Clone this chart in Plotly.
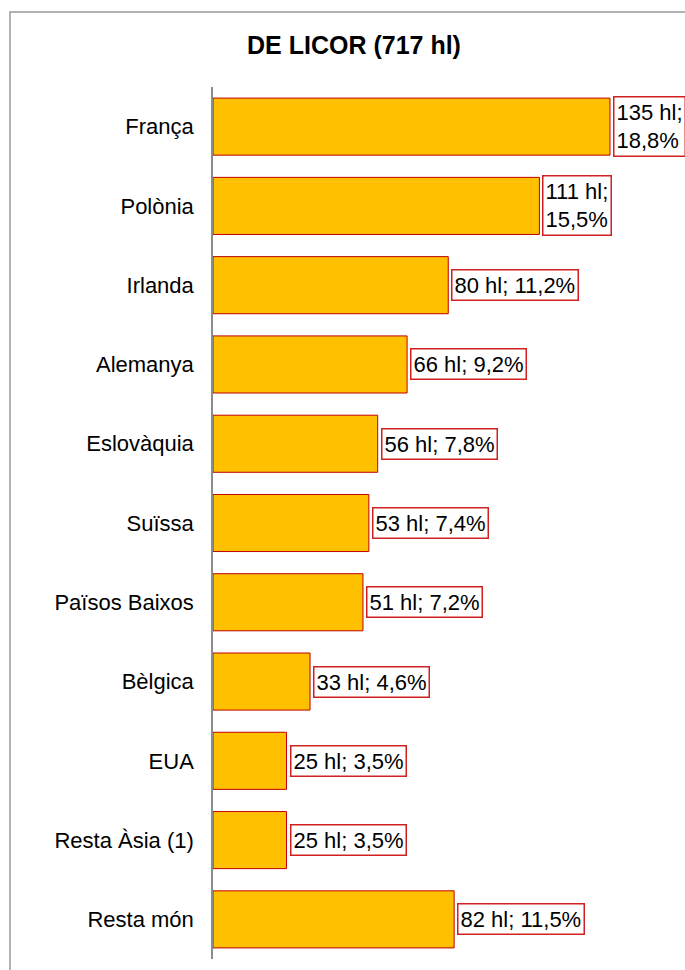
import plotly.graph_objects as go

categories = ["França", "Polònia", "Irlanda", "Alemanya", "Eslovàquia", "Suïssa",
              "Països Baixos", "Bèlgica", "EUA", "Resta Àsia (1)", "Resta món"]
values = [135, 111, 80, 66, 56, 53, 51, 33, 25, 25, 82]
labels = ["135 hl;<br>18,8%", "111 hl;<br>15,5%", "80 hl; 11,2%", "66 hl; 9,2%",
          "56 hl; 7,8%", "53 hl; 7,4%", "51 hl; 7,2%", "33 hl; 4,6%",
          "25 hl; 3,5%", "25 hl; 3,5%", "82 hl; 11,5%"]
title = "DE LICOR (717 hl)"

W, H = 685, 970
L, R_ = 213, 2
T, B = 87, H - 959
plot_w = W - L - R_
plot_h = H - T - B
FONT = "Liberation Sans, Arial"

fig = go.Figure(go.Bar(
    x=values, y=categories, orientation="h",
    marker=dict(color="#FFC000", line=dict(color="#C00000", width=1)),
    width=0.72, hoverinfo="skip",
))

for c, v, lab in zip(categories, values, labels):
    fig.add_annotation(x=v, y=c, text=lab, showarrow=False, xanchor="left",
                       xshift=3, align="left",
                       font=dict(family=FONT, size=22, color="#000"),
                       bordercolor="#D02020", borderwidth=1.5, borderpad=2,
                       bgcolor="white")

# outer chart border
fig.add_shape(type="rect", xref="paper", yref="paper",
              x0=(10 - L) / plot_w, x1=(W + 30 - L) / plot_w,
              y0=(H - B - 12) / plot_h, y1=(H - B - (H + 30)) / plot_h,
              line=dict(color="#9a9a9a", width=1.5), layer="below")

fig.update_layout(
    width=W, height=H,
    margin=dict(l=L, r=R_, t=T, b=B),
    paper_bgcolor="white", plot_bgcolor="white",
    showlegend=False,
    title=dict(text="<b>" + title + "</b>", x=354 / W, xanchor="center",
               y=1 - 45 / H, yanchor="middle",
               font=dict(family=FONT, size=25, color="#000")),
    xaxis=dict(range=[0, plot_w / (397 / 135)], visible=False, fixedrange=True),
    yaxis=dict(autorange="reversed", showline=True, linecolor="#8c8c8c", linewidth=1.5,
               ticks="", showgrid=False, ticklabelstandoff=13,
               tickfont=dict(family=FONT, size=22, color="#000")),
)

fig.write_html(
    "out.html",
    config={"displayModeBar": False},
    post_script="document.body.style.margin='0';document.body.style.overflow='hidden';",
)
